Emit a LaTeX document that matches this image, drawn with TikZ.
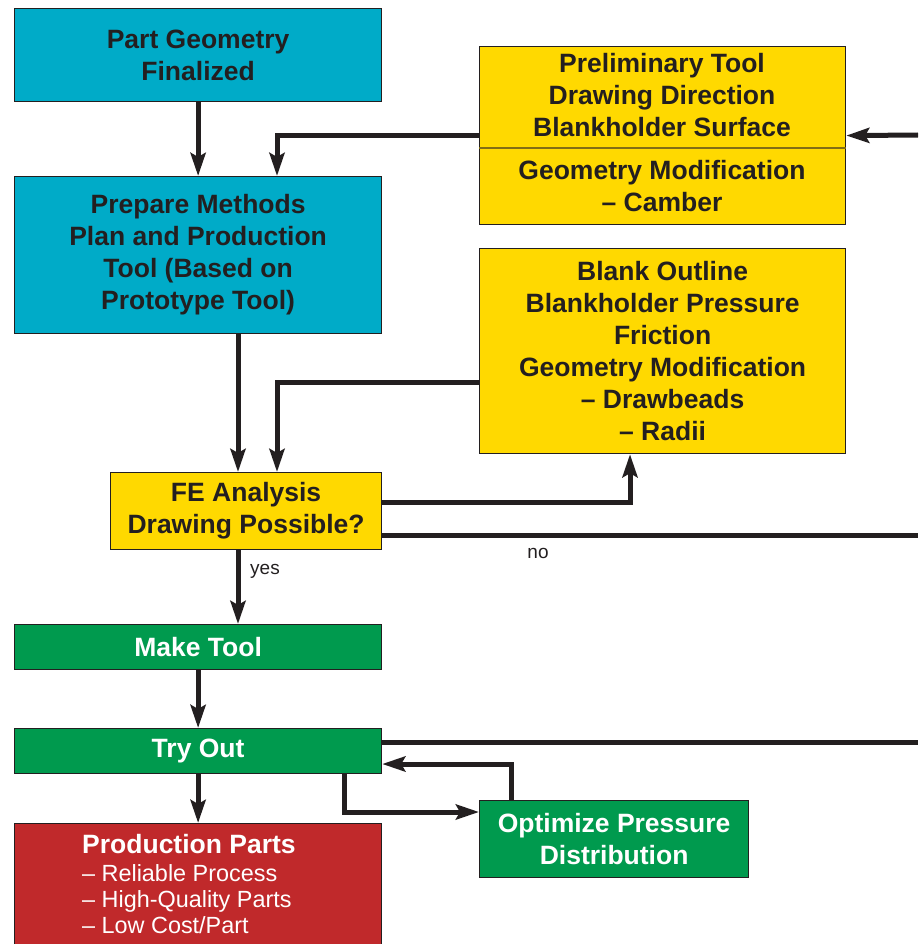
\documentclass[tikz,border=0pt]{standalone}
\usepackage{fontspec}
\setmainfont{Liberation Sans}
\usetikzlibrary{arrows.meta}
\definecolor{cyanbox}{RGB}{0,171,200}
\definecolor{yellowbox}{RGB}{255,217,0}
\definecolor{greenbox}{RGB}{0,154,78}
\definecolor{redbox}{RGB}{192,41,43}
\definecolor{linec}{RGB}{35,31,32}
\definecolor{divc}{RGB}{130,110,20}
\tikzset{
  box/.style={draw=linec, line width=1.2pt, anchor=north west, inner sep=0pt, align=center,
    font=\fontsize{26.5}{32}\selectfont\bfseries, text=linec},
  wbox/.style={box, text=white},
  conn/.style={draw=linec, line width=5pt},
  arr/.style={conn, -{Stealth[length=23pt,width=15pt,inset=4pt]}},
  small/.style={font=\fontsize{19}{22}\selectfont, text=linec},
}
\begin{document}
\begin{tikzpicture}[x=1pt,y=-1pt]
\useasboundingbox (0,0) rectangle (918,944);
% boxes
\node[box, fill=cyanbox, minimum width=367pt, minimum height=93pt] (pg) at (14,8) {Part Geometry\\Finalized};
\node[box, fill=cyanbox, minimum width=367pt, minimum height=157pt] (pm) at (14,176) {Prepare Methods\\Plan and Production\\Tool (Based on\\Prototype Tool)};
\node[box, fill=yellowbox, minimum width=366pt, minimum height=178pt] (ya) at (479,46) {};
\draw[divc, line width=1.2pt] (ya.west |- 0,148) -- (ya.east |- 0,148);
\node[box, draw=none, anchor=center] (yat) at (662,95) {Preliminary Tool\\Drawing Direction\\Blankholder Surface};
\node[box, draw=none, anchor=center] (yab) at (662,186) {Geometry Modification\\– Camber};
\node[box, fill=yellowbox, minimum width=366pt, minimum height=205pt] (yb) at (479,248) {Blank Outline\\Blankholder Pressure\\Friction\\Geometry Modification\\– Drawbeads\\– Radii};
\node[box, fill=yellowbox, minimum width=271pt, minimum height=77pt] (fe) at (110,472) {FE Analysis\\Drawing Possible?};
\node[wbox, fill=greenbox, minimum width=367pt, minimum height=45pt] (mt) at (14,624) {Make Tool};
\node[wbox, fill=greenbox, minimum width=367pt, minimum height=45pt] (to) at (14,728) {Try Out};
\node[wbox, fill=greenbox, minimum width=269pt, minimum height=77pt] (op) at (479,800) {Optimize Pressure\\Distribution};
\node[wbox, fill=redbox, minimum width=367pt, minimum height=140pt] (pp) at (14,823) {};
\node[anchor=north west, inner sep=0pt, align=left, text=white,
  font=\fontsize{23.4}{26.2}\selectfont] (ppt) at (82,834)
  {{\fontsize{26.5}{28}\selectfont\bfseries Production Parts}\\[1.5pt]
   – Reliable Process\\– High-Quality Parts\\– Low Cost/Part};
% free ends
\coordinate (r1) at (918,135);
\coordinate (r2) at (918,535);
\coordinate (r3) at (918,742);
% connectors
\draw[arr] (pg.south) -- (pm.north);
\draw[arr] (ya.west) -| (pm.north -| 277,0);
\draw[arr] (r1) -- (ya.east);
\draw[arr] (pm.south -| 238,0) -- (fe.north -| 238,0);
\draw[arr] (yb.west |- 0,382) -| (fe.north -| 277,0);
\draw[arr] (fe.east |- 0,502) -| (yb.south -| 630,0);
\draw[conn] (fe.east |- 0,535) -- (r2);
\node[small, anchor=center] (no) at (538,553) {no};
\draw[arr] (fe.south -| 238,0) -- (mt.north -| 238,0);
\node[small, anchor=center] (yes) at (265,571) {yes};
\draw[arr] (mt.south) -- (to.north);
\draw[conn] (to.east |- 0,742) -- (r3);
\draw[arr] (op.north -| 511,0) |- (to.east |- 0,764);
\draw[arr] (to.south -| 344,0) |- (op.west |- 0,812);
\draw[arr] (to.south) -- (pp.north);
\end{tikzpicture}
\end{document}
